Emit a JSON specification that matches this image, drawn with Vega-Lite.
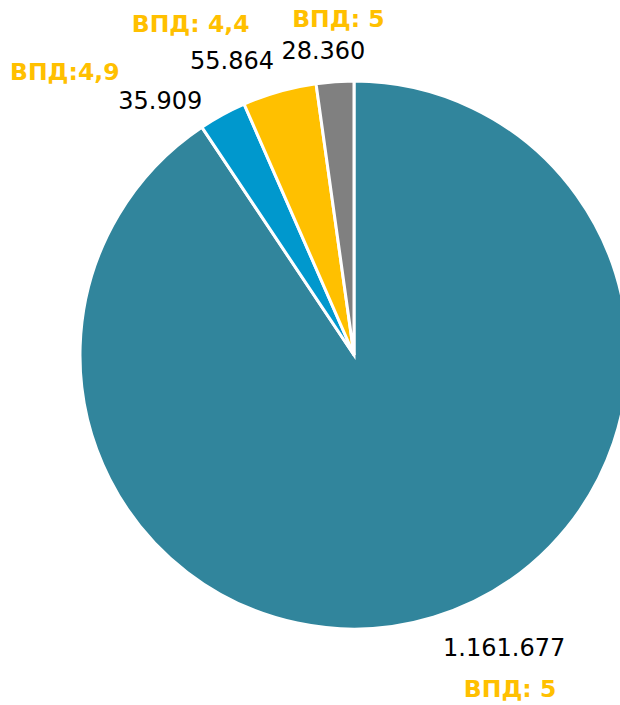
{
  "$schema": "https://vega.github.io/schema/vega-lite/v6.json",
  "width": 708,
  "height": 700,
  "autosize": "none",
  "padding": {"top": 5, "left": 0, "right": 0, "bottom": 0},
  "background": "white",
  "config": {
    "view": {"stroke": null},
    "locale": {"number": {"decimal": ",", "thousands": ".", "grouping": [3], "currency": ["", " €"]}},
    "text": {"font": "DejaVu Sans"}
  },
  "data": {
    "values": [
      {"cat": "A", "idx": 1, "value": 1161677, "vpd": "ВПД: 5"},
      {"cat": "B", "idx": 2, "value": 35909, "vpd": "ВПД:4,9"},
      {"cat": "C", "idx": 3, "value": 55864, "vpd": "ВПД: 4,4"},
      {"cat": "D", "idx": 4, "value": 28360, "vpd": "ВПД: 5"}
    ]
  },
  "encoding": {
    "theta": {"field": "value", "type": "quantitative", "stack": true},
    "order": {"field": "idx", "type": "quantitative"}
  },
  "layer": [
    {
      "mark": {"type": "arc", "outerRadius": 274, "stroke": "white", "strokeWidth": 3},
      "encoding": {
        "color": {"field": "cat", "type": "nominal", "legend": null,
          "scale": {"domain": ["A", "B", "C", "D"], "range": ["#31859C", "#0098CD", "#FFC000", "#808080"]}}
      }
    },
    {
      "mark": {"type": "text", "radius": 330, "thetaOffset": -0.178, "fontSize": 24, "color": "black"},
      "encoding": {"text": {"condition": {"test": "datum.cat === 'A'", "field": "value", "format": ",d"}, "value": ""}}
    },
    {
      "mark": {"type": "text", "radius": 370, "thetaOffset": -0.141, "fontSize": 23.5, "fontWeight": "bold", "color": "#FFC000"},
      "encoding": {"text": {"condition": {"test": "datum.cat === 'A'", "field": "vpd"}, "value": ""}}
    },
    {
      "mark": {"type": "text", "radius": 319, "thetaOffset": -0.152, "fontSize": 24, "color": "black"},
      "encoding": {"text": {"condition": {"test": "datum.cat === 'B'", "field": "value", "format": ",d"}, "value": ""}}
    },
    {
      "mark": {"type": "text", "radius": 404, "thetaOffset": -0.297, "fontSize": 23.5, "fontWeight": "bold", "color": "#FFC000"},
      "encoding": {"text": {"condition": {"test": "datum.cat === 'B'", "field": "vpd"}, "value": ""}}
    },
    {
      "mark": {"type": "text", "radius": 317, "thetaOffset": -0.119, "fontSize": 24, "color": "black"},
      "encoding": {"text": {"condition": {"test": "datum.cat === 'C'", "field": "value", "format": ",d"}, "value": ""}}
    },
    {
      "mark": {"type": "text", "radius": 368, "thetaOffset": -0.184, "fontSize": 23.5, "fontWeight": "bold", "color": "#FFC000"},
      "encoding": {"text": {"condition": {"test": "datum.cat === 'C'", "field": "vpd"}, "value": ""}}
    },
    {
      "mark": {"type": "text", "radius": 305, "thetaOffset": -0.031, "fontSize": 24, "color": "black"},
      "encoding": {"text": {"condition": {"test": "datum.cat === 'D'", "field": "value", "format": ",d"}, "value": ""}}
    },
    {
      "mark": {"type": "text", "radius": 335, "thetaOffset": 0.023, "fontSize": 23.5, "fontWeight": "bold", "color": "#FFC000"},
      "encoding": {"text": {"condition": {"test": "datum.cat === 'D'", "field": "vpd"}, "value": ""}}
    }
  ]
}
